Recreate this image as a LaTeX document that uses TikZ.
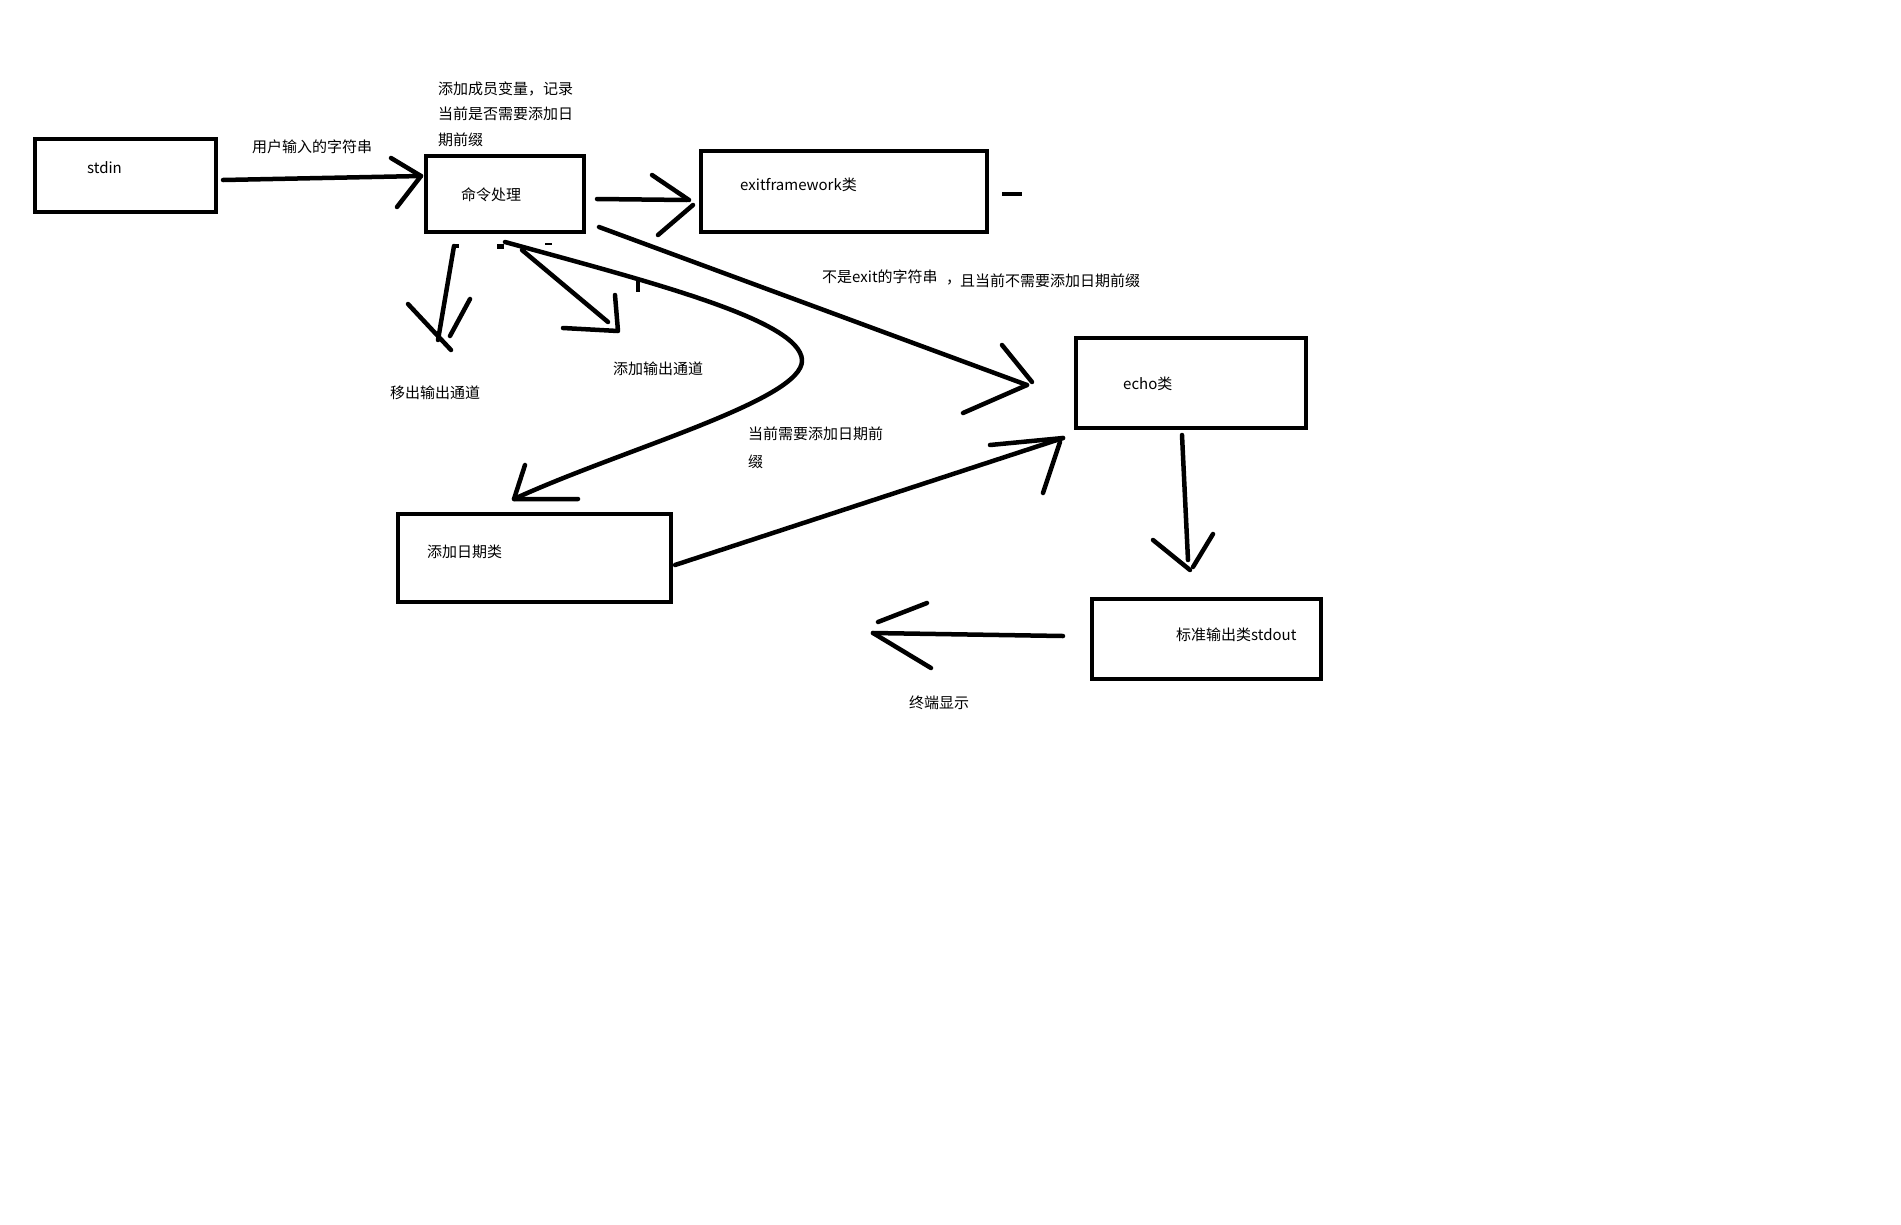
\documentclass[tikz,border=0pt]{standalone}
\usepackage{fontspec}
\setmainfont{Noto Sans CJK SC}
\begin{document}
\begin{tikzpicture}[x=1pt,y=-1pt,
  box/.style={draw,line width=4.5pt,inner sep=0pt},
  stroke/.style={line width=4.5pt,line cap=round,line join=round},
  lbl/.style={inner sep=0pt,anchor=west,font=\fontsize{15}{15}\selectfont}]
\useasboundingbox (0,0) rectangle (1901,1224);
\fill[white] (0,0) rectangle (1901,1224);
% boxes
\node[box,minimum width=181pt,minimum height=73pt] (stdin) at (125.5,175.5) {};
\node[box,minimum width=158pt,minimum height=76pt] (cmd) at (505,194) {};
\node[box,minimum width=286pt,minimum height=81pt] (exit) at (844,191.5) {};
\node[box,minimum width=230pt,minimum height=90pt] (echo) at (1191,383) {};
\node[box,minimum width=273pt,minimum height=88pt] (date) at (534.5,558) {};
\node[box,minimum width=229pt,minimum height=80pt] (stdout) at (1206.5,639) {};
% texts
\node[lbl] (tstdin) at (87,168) {stdin};
\node[lbl] (tinput) at (252,147) {用户输入的字符串};
\node[lbl] (tm1) at (438,89) {添加成员变量，记录};
\node[lbl] (tm2) at (438,114) {当前是否需要添加日};
\node[lbl] (tm3) at (438,140) {期前缀};
\node[lbl] (tcmd) at (461,195) {命令处理};
\node[lbl] (texit) at (740,185) {exitframework类};
\node[lbl] (tnot1) at (822,277) {不是exit的字符串};
\node[lbl] (tnot2) at (946,283) {，};
\node[lbl] (tnot3) at (960,281) {且当前不需要添加日期前缀};
\node[lbl] (techo) at (1123,384) {echo类};
\node[lbl] (tremove) at (390,393) {移出输出通道};
\node[lbl] (tadd) at (613,369) {添加输出通道};
\node[lbl] (tneed1) at (748,434) {当前需要添加日期前};
\node[lbl] (tneed2) at (748,462) {缀};
\node[lbl] (tdate) at (427,552) {添加日期类};
\node[lbl] (tstdout) at (1176,635) {标准输出类stdout};
\node[lbl] (tterm) at (909,703) {终端显示};
% coordinates
\coordinate (a1s) at (223,180); \coordinate (a1e) at (421,176);
\coordinate (a1u) at (391,158); \coordinate (a1d) at (397,207);
\coordinate (a2s) at (597,199); \coordinate (a2e) at (687,200);
\coordinate (a2u) at (652,175); \coordinate (a2t) at (689,200);
\coordinate (a2d) at (658,235); \coordinate (a2t2) at (693,205);
\coordinate (d1) at (1002,194); \coordinate (d2) at (1022,194);
\coordinate (a3s) at (599,227); \coordinate (a3e) at (1027,385);
\coordinate (a3u) at (1002,345); \coordinate (a3t) at (1032,382);
\coordinate (a3d) at (963,413);
\coordinate (a4s) at (454,246); \coordinate (a4e) at (438,340);
\coordinate (a4f) at (459,246);
\coordinate (a4u) at (408,304); \coordinate (a4t) at (451,350);
\coordinate (a4v) at (470,299); \coordinate (a4t2) at (450,336);
\coordinate (a5s) at (522,250); \coordinate (a5e) at (608,322);
\coordinate (a5h) at (563,328); \coordinate (a5c) at (618,331);
\coordinate (a5v) at (615,295);
\coordinate (m1) at (497,246); \coordinate (m2) at (504,246);
\coordinate (m3) at (545,244); \coordinate (m4) at (552,244);
\coordinate (m5) at (638,281); \coordinate (m6) at (638,292);
\coordinate (c0) at (505,242); \coordinate (c1) at (802,360);
\coordinate (ct) at (514,499);
\coordinate (cu) at (525,465); \coordinate (cr) at (578,499);
\coordinate (a6s) at (675,565); \coordinate (a6e) at (1063,438);
\coordinate (a6u) at (990,445); \coordinate (a6d) at (1043,493);
\coordinate (a6t) at (1060,442);
\coordinate (a7s) at (1182,435); \coordinate (a7e) at (1188,560);
\coordinate (a7l) at (1153,540); \coordinate (a7t) at (1190,570);
\coordinate (a7r) at (1213,534); \coordinate (a7t2) at (1193,567);
\coordinate (a8s) at (1063,636); \coordinate (a8e) at (873,633);
\coordinate (a8u) at (927,603); \coordinate (a8t) at (878,622);
\coordinate (a8d) at (931,668);
% arrows
\draw[stroke] (a1s) -- (a1e);
\draw[stroke] (a1u) -- (a1e) -- (a1d);
\draw[stroke] (a2s) -- (a2e);
\draw[stroke] (a2u) -- (a2t);
\draw[stroke] (a2d) -- (a2t2);
\draw[line width=4pt] (d1) -- (d2);
\draw[stroke] (a3s) -- (a3e);
\draw[stroke] (a3u) -- (a3t);
\draw[stroke] (a3d) -- (a3e);
\draw[stroke] (a4s) -- (a4e);
\draw[line width=4pt] (a4s) -- (a4f);
\draw[stroke] (a4u) -- (a4t);
\draw[stroke] (a4v) -- (a4t2);
\draw[stroke] (a5s) -- (a5e);
\draw[stroke] (a5h) -- (a5c) -- (a5v);
\draw[line width=5pt] (m1) -- (m2);
\draw[line width=2.5pt] (m3) -- (m4);
\draw[line width=4pt] (m5) -- (m6);
\draw[stroke] (c0) .. controls (650,282) and (800,320) .. (c1)
  .. controls (804,400) and (620,450) .. (ct);
\draw[stroke] (cu) -- (ct) -- (cr);
\draw[stroke] (a6s) -- (a6e);
\draw[stroke] (a6u) -- (a6e);
\draw[stroke] (a6d) -- (a6t);
\draw[stroke] (a7s) -- (a7e);
\draw[stroke] (a7l) -- (a7t);
\draw[stroke] (a7r) -- (a7t2);
\draw[stroke] (a8s) -- (a8e);
\draw[stroke] (a8u) -- (a8t);
\draw[stroke] (a8e) -- (a8d);
\end{tikzpicture}
\end{document}
